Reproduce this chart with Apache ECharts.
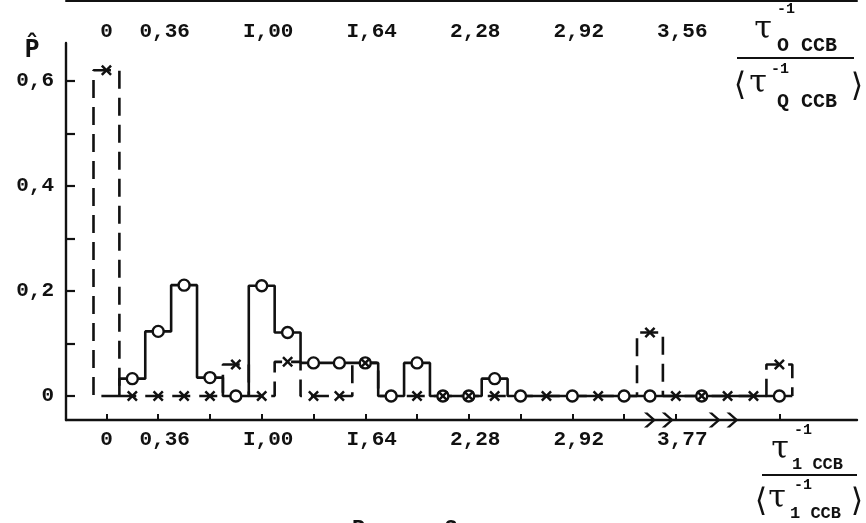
<!DOCTYPE html>
<html>
<head>
<meta charset="utf-8">
<script src="https://cdn.jsdelivr.net/npm/echarts@6/dist/echarts.min.js"></script>
<style>
html, body { margin: 0; padding: 0; background: #fff; }
#main { width: 866px; height: 523px; }
</style>
</head>
<body>
<div id="main"></div>
<script>
// bin centres on the tau^-1 / <tau^-1> scale
var binTau = [0, 0.16, 0.32, 0.48, 0.64, 0.80, 0.96, 1.12, 1.28, 1.44, 1.60, 1.76, 1.92, 2.08,
    2.24, 2.40, 2.56, 2.72, 2.88, 3.04, 3.20, 3.36, 3.52, 3.68, 3.84, 4.00, 4.16];
var binWidth = 0.16;

// solid histogram (circles), null = bin not drawn
var solidP = [null, 0.033, 0.123, 0.211, 0.035, 0, 0.21, 0.121, 0.063, 0.063, 0.063, 0, 0.063, 0,
    0, 0.033, 0, 0, 0, 0, 0, 0, 0, 0, 0, 0, 0];
// dashed histogram (crosses)
var dashedP = [0.62, 0, 0, 0, 0, 0.06, 0, 0.065, 0, 0, 0.063, 0, 0, 0,
    0, 0, 0, 0, 0, 0, 0, 0.121, 0, 0, 0, 0, 0.06];

// bins where a marker is printed
var circleBins = [1, 2, 3, 4, 5, 6, 7, 8, 9, 10, 11, 12, 13, 14, 15, 16, 18, 20, 21, 23, 26];
var crossBins = [0, 1, 2, 3, 4, 5, 6, 7, 8, 9, 10, 12, 13, 14, 15, 17, 19, 21, 22, 23, 24, 25, 26];

// axes
var tickTau = [0, 0.32, 0.64, 0.96, 1.28, 1.60, 1.92, 2.24, 2.56, 2.88, 3.20, 3.52, 4.16];
var labelTau = [0, 0.36, 1.00, 1.64, 2.28, 2.92, 3.56];
var topLabels = ['0', '0,36', 'I,00', 'I,64', '2,28', '2,92', '3,56'];
var bottomLabels = ['0', '0,36', 'I,00', 'I,64', '2,28', '2,92', '3,77'];
var yTicks = [0, 0.1, 0.2, 0.3, 0.4, 0.5, 0.6];
var yLabels = [0, 0.2, 0.4, 0.6];
var breakTau = [3.36, 3.47, 3.76, 3.87]; // ">" marks on the lower axis

var xMin = -0.25, xMax = 4.64;
var yMin = -0.0457, yMax = 0.672;

var monoFont = 'Liberation Mono';
var ink = '#111';

function stepPath(vals, closeFirst) {
    var pts = [];
    var started = false;
    vals.forEach(function(v, i) {
        if (v == null) return;
        var l = binTau[i] - binWidth / 2,
            r = binTau[i] + binWidth / 2;
        if (!started) {
            if (closeFirst) pts.push([r, 0]);
            pts.push([l, 0]);
            started = true;
        }
        pts.push([l, v], [r, v]);
    });
    pts.push([pts[pts.length - 1][0], 0]);
    return pts;
}

function labelFor(list) {
    return function(val) {
        for (var i = 0; i < labelTau.length; i++) {
            if (Math.abs(labelTau[i] - val) < 1e-6) return list[i];
        }
        return '';
    };
}

var crossPath = 'path://M0,1.6 L1.6,0 L5,3.4 L8.4,0 L10,1.6 L6.6,5 L10,8.4 L8.4,10 L5,6.6 L1.6,10 L0,8.4 L3.4,5 Z';
var chevronPath = 'path://M0,0 L3.5,0 L12,7 L3.5,14 L0,14 L8.5,7 Z';

var chart = echarts.init(document.getElementById('main'));

function txt(x, y, text, font, align) {
    return {
        type: 'text', x: x, y: y, silent: true,
        style: { text: text, font: font, fill: ink, align: align || 'center', verticalAlign: 'middle' }
    };
}

var option = {
    animation: false,
    backgroundColor: '#fff',
    grid: { left: 66, right: 9, top: 43, bottom: 103 },
    xAxis: [{
        type: 'value',
        min: xMin, max: xMax,
        axisLine: { onZero: false, lineStyle: { color: ink, width: 2.4 } },
        axisTick: { inside: true, length: 6, customValues: tickTau, lineStyle: { color: ink, width: 2 } },
        axisLabel: {
            margin: 9, customValues: labelTau, formatter: labelFor(bottomLabels),
            color: ink, fontFamily: monoFont, fontWeight: 'bold', fontSize: 21
        },
        splitLine: { show: false }
    }, {
        type: 'value',
        position: 'top',
        offset: 42,
        min: xMin, max: xMax,
        axisLine: { onZero: false, lineStyle: { color: ink, width: 2 } },
        axisTick: { show: false },
        axisLabel: {
            inside: true, margin: 20, customValues: labelTau, formatter: labelFor(topLabels),
            color: ink, fontFamily: monoFont, fontWeight: 'bold', fontSize: 21
        },
        splitLine: { show: false }
    }],
    yAxis: {
        type: 'value',
        min: yMin, max: yMax,
        axisLine: { show: true, onZero: false, lineStyle: { color: ink, width: 2.4 } },
        axisTick: { show: true, inside: true, length: 9, customValues: yTicks, lineStyle: { color: ink, width: 2.2 } },
        axisLabel: {
            margin: 12, customValues: yLabels,
            formatter: function(v) { return String(v).replace('.', ','); },
            color: ink, fontFamily: monoFont, fontWeight: 'bold', fontSize: 21
        },
        splitLine: { show: false }
    },
    series: [{
        type: 'line',
        data: stepPath(solidP, false),
        symbol: 'none',
        lineStyle: { color: ink, width: 2.6 },
        z: 3,
        markPoint: {
            silent: true,
            symbol: chevronPath,
            symbolSize: [12, 15],
            itemStyle: { color: ink },
            label: { show: false },
            data: breakTau.map(function(t) { return { coord: [t, yMin] }; })
        }
    }, {
        type: 'line',
        data: stepPath(dashedP, true),
        symbol: 'none',
        lineStyle: { color: ink, width: 2.6, type: [18, 9] },
        z: 3
    }, {
        type: 'scatter',
        data: circleBins.map(function(i) { return [binTau[i], solidP[i]]; }),
        symbol: 'circle',
        symbolSize: 11,
        itemStyle: { color: '#fff', borderColor: ink, borderWidth: 2.4, opacity: 1 },
        z: 4
    }, {
        type: 'scatter',
        data: crossBins.map(function(i) { return [binTau[i], dashedP[i]]; }),
        symbol: crossPath,
        symbolSize: 11,
        itemStyle: { color: ink, opacity: 1 },
        z: 5
    }],
    graphic: [
        // y-axis name
        txt(32, 50, 'P\u0302', 'bold 25px DejaVu Sans Mono'),
        // upper axis name
        txt(763, 30, 'τ', '32px DejaVu Serif'),
        txt(786, 9, '-1', 'bold 15px ' + monoFont),
        txt(777, 46, 'O ССВ', 'bold 20px ' + monoFont, 'left'),
        { type: 'line', silent: true, shape: { x1: 737, y1: 58, x2: 854, y2: 58 }, style: { stroke: ink, lineWidth: 2 } },
        txt(740, 87, '⟨', '32px DejaVu Sans'),
        txt(758, 84, 'τ', '32px DejaVu Serif'),
        txt(780, 69, '-1', 'bold 15px ' + monoFont),
        txt(777, 102, 'Q ССВ', 'bold 20px ' + monoFont, 'left'),
        txt(857, 88, '⟩', '32px DejaVu Sans'),
        // lower axis name
        txt(780, 450, 'τ', '32px DejaVu Serif'),
        txt(803, 430, '-1', 'bold 15px ' + monoFont),
        txt(792, 465, '1 ССВ', 'bold 17px ' + monoFont, 'left'),
        { type: 'line', silent: true, shape: { x1: 762, y1: 475, x2: 857, y2: 475 }, style: { stroke: ink, lineWidth: 2 } },
        txt(761, 503, '⟨', '32px DejaVu Sans'),
        txt(777, 499, 'τ', '32px DejaVu Serif'),
        txt(803, 485, '-1', 'bold 15px ' + monoFont),
        txt(790, 514, '1 ССВ', 'bold 17px ' + monoFont, 'left'),
        txt(857, 503, '⟩', '32px DejaVu Sans'),
        // caption, cut by the lower edge
        {
            type: 'text', x: 352, y: 518, silent: true,
            style: { text: 'Р и с. 3', font: 'bold 22px ' + monoFont, fill: ink, align: 'left', verticalAlign: 'top' }
        }
    ]
};

chart.setOption(option);
</script>
</body>
</html>
